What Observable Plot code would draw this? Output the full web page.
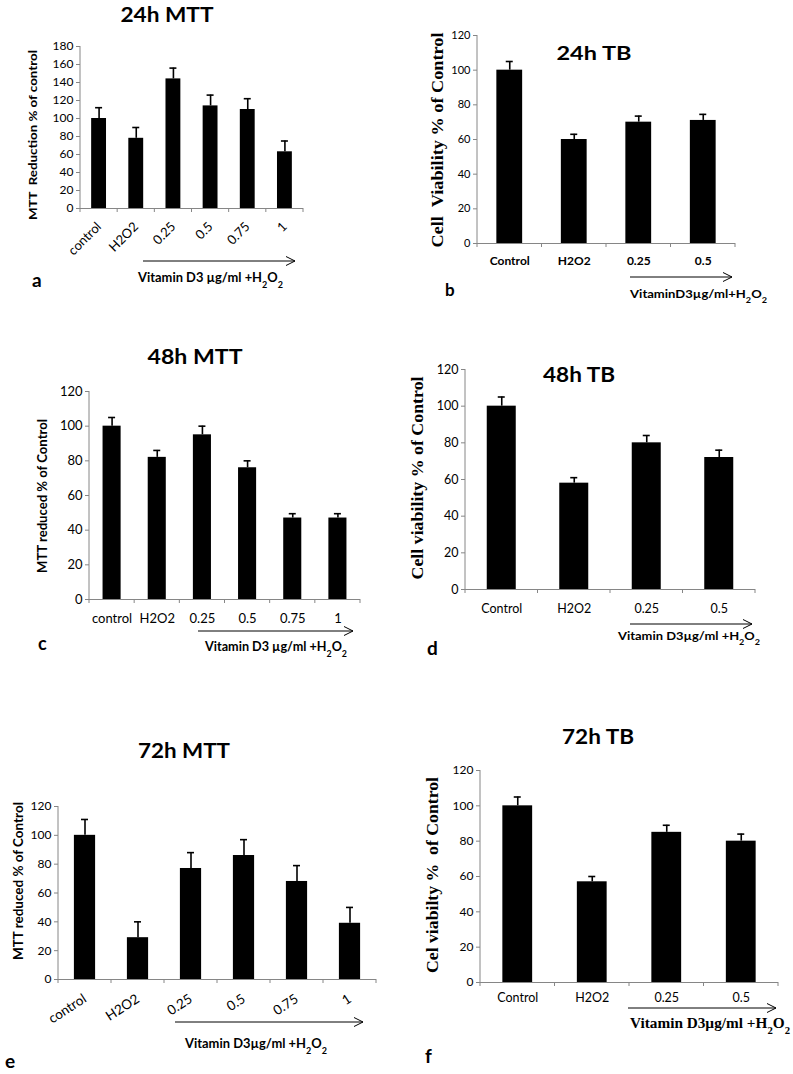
<!DOCTYPE html>
<html><head><meta charset="utf-8">
<script src="https://cdn.jsdelivr.net/npm/d3@7"></script>
<script src="https://cdn.jsdelivr.net/npm/@observablehq/plot@0.6"></script>
<style>
html,body{margin:0;padding:0;background:#fff;}
#fig{position:relative;width:793px;height:1074px;overflow:hidden;background:#fff;}
#fig svg{position:absolute;overflow:visible;}
</style></head><body><div id="fig"></div>
<script>
// ---- data ----
const mttCategories = ["control", "H2O2", "0.25", "0.5", "0.75", "1"];
const tbCategories = ["Control", "H2O2", "0.25", "0.5"];

const mtt24Values = [100, 78, 144, 114, 110, 63];
const mtt24Errors = [12, 12, 12, 12, 12, 12];
const tb24Values = [100, 60, 70, 71];
const tb24Errors = [5, 3, 3.5, 3.5];

const mtt48Values = [100, 82, 95, 76, 47, 47];
const mtt48Errors = [5, 4, 5, 4, 2.5, 2.5];
const tb48Values = [100, 58, 80, 72];
const tb48Errors = [5, 3, 4, 4];

const mtt72Values = [100, 29, 77, 86, 68, 39];
const mtt72Errors = [11, 11, 11, 11, 11, 11];
const tb72Values = [100, 57, 85, 80];
const tb72Errors = [5, 3, 4, 4];

const SANS = "Lato, 'Open Sans', sans-serif";
const SERIF = "'Liberation Serif', 'DejaVu Serif', serif";
const AXIS_GRAY = "#868686";
const fig = document.getElementById("fig");

function addText(svg, o, left, top) {
  const t = svg.append("text")
    .attr("font-family", o.family || SANS)
    .attr("font-size", o.size)
    .attr("font-weight", o.weight || "bold")
    .attr("fill", "#000")
    .attr("text-anchor", o.anchor || "start");
  if (o.rotate) {
    t.attr("transform", `translate(${o.x - left},${o.y - top}) rotate(-90)`)
     .attr("dominant-baseline", "central");
  } else {
    t.attr("x", o.x - left).attr("y", o.y - top);
  }
  if (o.len) t.attr("textLength", o.len).attr("lengthAdjust", "spacingAndGlyphs");
  for (const [s, sub] of o.parts) {
    const ts = t.append("tspan").text(s);
    if (sub) ts.attr("font-size", "70%").attr("baseline-shift", "sub");
  }
}

function panel(cfg) {
  const {left, top, width, height} = cfg;
  const [fx0, fx1, fy0, fy1] = cfg.frame;
  const n = cfg.categories.length;
  const data = cfg.categories.map((c, i) => ({cat: c, v: cfg.values[i], e: cfg.errors[i]}));
  const bw = (fx1 - fx0) / n * 0.4;
  const capInset = Math.max(0, (bw - 7) / 2);
  const plot = Plot.plot({
    width, height,
    marginLeft: fx0 - left, marginRight: left + width - fx1,
    marginTop: fy0 - top, marginBottom: top + height - fy1,
    style: {fontFamily: SANS, fontSize: cfg.tickFont + "px", color: "#000", background: "transparent", overflow: "visible"},
    x: {domain: cfg.categories, paddingInner: 0.6, paddingOuter: 0.3, round: false, label: null},
    y: {domain: [0, cfg.yMax], label: null},
    marks: [
      Plot.barY(data, {x: "cat", y: "v", fill: "#000"}),
      Plot.ruleX(data, {x: "cat", y1: "v", y2: d => d.v + d.e, stroke: "#000", strokeWidth: 1.6}),
      Plot.tickY(data, {x: "cat", y: d => d.v + d.e, stroke: "#000", strokeWidth: 1.6, insetLeft: capInset, insetRight: capInset}),
      Plot.ruleY([0], {stroke: AXIS_GRAY, strokeWidth: 1}),
      Plot.axisY({ticks: d3.range(0, cfg.yMax + 1, 20), tickSize: 4, tickPadding: 3, stroke: AXIS_GRAY, fill: "#000", fontSize: cfg.tickFont, label: null}),
      Plot.axisX({tickSize: 0, tickPadding: cfg.xPad, fontSize: cfg.xFont, fontWeight: cfg.xWeight || "normal",
                  tickRotate: cfg.rotate || 0, label: null, fill: "#000"})
    ]
  });
  plot.style.left = left + "px";
  plot.style.top = top + "px";
  fig.appendChild(plot);
  const svg = d3.select(plot);
  const xs = plot.scale("x");
  const ml = fx0 - left, axisY = fy1 - top;
  // y axis line
  svg.append("line").attr("x1", ml).attr("x2", ml).attr("y1", fy0 - top).attr("y2", axisY)
    .attr("stroke", AXIS_GRAY).attr("stroke-width", 1);
  // category boundary ticks
  const step = xs.step, start = xs.apply(cfg.categories[0]) - (step - xs.bandwidth) / 2;
  for (let i = 0; i <= n; i++) {
    const x = start + i * step;
    svg.append("line").attr("x1", x).attr("x2", x).attr("y1", axisY).attr("y2", axisY + 4)
      .attr("stroke", AXIS_GRAY).attr("stroke-width", 1);
  }
  // title
  addText(svg, {...cfg.title, anchor: "middle", weight: "bold"}, left, top);
  // y label
  addText(svg, {...cfg.ylabel, anchor: "middle", rotate: true}, left, top);
  // arrow
  const [ax1, ax2, ay] = cfg.arrow;
  svg.append("line").attr("x1", ax1 - left).attr("x2", ax2 - left).attr("y1", ay - top).attr("y2", ay - top)
    .attr("stroke", "#000").attr("stroke-width", 1);
  svg.append("path").attr("d", `M${ax2 - left - 9},${ay - top - 4.5}L${ax2 - left},${ay - top}L${ax2 - left - 9},${ay - top + 4.5}`)
    .attr("stroke", "#000").attr("fill", "none").attr("stroke-width", 1);
  // sub label
  addText(svg, cfg.sub, left, top);
  // letter
  addText(svg, cfg.letter, left, top);
}

const vitParts = (s) => [[s, false], ["2", true], ["O", false], ["2", true]];

panel({
  left: 0, top: 0, width: 330, height: 300, frame: [80, 303, 46, 208],
  categories: mttCategories, values: mtt24Values, errors: mtt24Errors, yMax: 180,
  tickFont: 12, xFont: 13, xPad: 16, rotate: -45,
  title: {x: 167, y: 22, size: 21, len: 93, parts: [["24h MTT", false]]},
  ylabel: {x: 32, y: 135, size: 12, len: 170, weight: "bold", parts: [["MTT  Reduction % of control", false]]},
  arrow: [143, 295, 261],
  sub: {x: 138, y: 282, size: 12.5, len: 145, parts: vitParts("Vitamin D3 µg/ml +H")},
  letter: {x: 32, y: 287, size: 19, parts: [["a", false]]}
});

panel({
  left: 400, top: 0, width: 393, height: 310, frame: [477, 735, 35, 243],
  categories: tbCategories, values: tb24Values, errors: tb24Errors, yMax: 120,
  tickFont: 11, xFont: 12, xWeight: "bold", xPad: 13,
  title: {x: 594, y: 60, size: 19, len: 75, parts: [["24h TB", false]]},
  ylabel: {x: 437, y: 140, size: 16, len: 215, weight: "bold", family: SERIF, parts: [["Cell  Viability % of Control", false]]},
  arrow: [630, 732, 277],
  sub: {x: 630, y: 298, size: 12, len: 137, parts: vitParts("VitaminD3µg/ml+H")},
  letter: {x: 445, y: 296, size: 17, parts: [["b", false]]}
});

panel({
  left: 0, top: 330, width: 400, height: 340, frame: [89, 360, 391, 599],
  categories: mttCategories, values: mtt48Values, errors: mtt48Errors, yMax: 120,
  tickFont: 13, xFont: 13, xPad: 14,
  title: {x: 195, y: 364, size: 21, len: 95, parts: [["48h MTT", false]]},
  ylabel: {x: 42, y: 496, size: 12.5, len: 154, weight: "bold", parts: [["MTT reduced % of Control", false]]},
  arrow: [198, 353, 631],
  sub: {x: 205, y: 651, size: 12.5, len: 142, parts: vitParts("Vitamin D3 µg/ml +H")},
  letter: {x: 38, y: 650, size: 18, parts: [["c", false]]}
});

panel({
  left: 400, top: 330, width: 393, height: 340, frame: [465, 755, 369, 589],
  categories: tbCategories, values: tb48Values, errors: tb48Errors, yMax: 120,
  tickFont: 12.5, xFont: 12.5, xPad: 15,
  title: {x: 579, y: 382, size: 21, len: 72, parts: [["48h TB", false]]},
  ylabel: {x: 417, y: 478, size: 16, len: 203, weight: "bold", family: SERIF, parts: [["Cell viability % of Control", false]]},
  arrow: [630, 752, 624],
  sub: {x: 618, y: 640, size: 12, len: 142, parts: vitParts("Vitamin D3µg/ml +H")},
  letter: {x: 427, y: 655, size: 19, parts: [["d", false]]}
});

panel({
  left: 0, top: 700, width: 400, height: 374, frame: [58, 376, 806, 979],
  categories: mttCategories, values: mtt72Values, errors: mtt72Errors, yMax: 120,
  tickFont: 12, xFont: 13.5, xPad: 18, rotate: -33,
  title: {x: 184, y: 758, size: 21, len: 92, parts: [["72h MTT", false]]},
  ylabel: {x: 18, y: 881, size: 12.5, len: 158, weight: "bold", parts: [["MTT reduced % of Control", false]]},
  arrow: [175, 363, 1022],
  sub: {x: 185, y: 1048, size: 12.5, len: 142, parts: vitParts("Vitamin D3µg/ml +H")},
  letter: {x: 5, y: 1068, size: 19, parts: [["e", false]]}
});

panel({
  left: 400, top: 700, width: 393, height: 374, frame: [480, 778, 770, 982],
  categories: tbCategories, values: tb72Values, errors: tb72Errors, yMax: 120,
  tickFont: 12, xFont: 12.5, xPad: 11,
  title: {x: 598, y: 744, size: 21, len: 72, parts: [["72h TB", false]]},
  ylabel: {x: 432, y: 875, size: 16, len: 196, weight: "bold", family: SERIF, parts: [["Cel viabilty %  of Control", false]]},
  arrow: [628, 776, 1008],
  sub: {x: 630, y: 1028, size: 14, len: 160, family: SERIF, parts: vitParts("Vitamin D3µg/ml +H")},
  letter: {x: 425, y: 1063, size: 19, parts: [["f", false]]}
});
</script></body></html>
